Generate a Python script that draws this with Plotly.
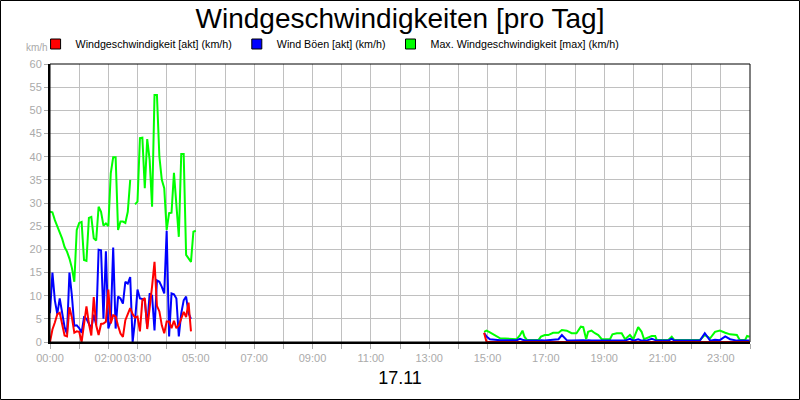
import plotly.graph_objects as go

DAY = "2023-11-17"

# ---- data: 00:00 - 05:00, 5-minute readings ----
left_times = [f"{m // 60:02d}:{m % 60:02d}" for m in range(0, 301, 5)]

speed_left = [
    0.0, 2.7, 4.2, 6.0, 6.3, 3.9, 1.4, 1.2, 7.5, 5.3,
    2.0, 2.3, 2.2, 0.0, 4.0, 7.7, 4.0, 1.4, 9.7, 3.6,
    1.5, 3.9, 4.0, 4.4, 11.3, 4.0, 5.8, 5.5, 3.5, 1.8,
    1.1, 4.7, 6.0, 7.3, 6.0, 5.3, 5.5, 2.3, 9.0, 9.5,
    2.8, 6.8, 12.0, 17.3, 7.8, 6.6, 3.6, 1.9, 4.4, 4.4,
    3.0, 4.6, 3.0, 3.6, 5.0, 6.5, 5.4, 8.5, 2.3, None,
    None,
]
gust_left = [
    6.2, 15.0, 9.0, 6.0, 9.4, 6.0, 3.2, 1.8, 15.0, 10.0,
    3.5, 3.6, 3.0, 2.0, 5.3, 5.0, 4.0, 2.9, 5.9, 3.7,
    19.9, 19.8, 5.0, 19.6, 2.9, 4.5, 20.4, 2.9, 9.8, 9.4,
    8.3, 13.0, 12.6, 14.0, 0.0, 4.7, 11.3, 9.4, 9.3, 9.0,
    3.2, 10.5, 10.0, 2.5, 13.3, 13.0, 11.9, 10.5, 24.0, 1.2,
    10.5, 10.3, 9.4, 1.2, 6.2, 9.0, 9.8, 6.2, 5.0, None,
    None,
]
max_left = [
    28.1, 28.0, 26.3, 24.9, 23.8, 22.3, 20.5, 19.5, 18.0, 16.0,
    13.0, 24.2, 25.7, 25.9, 17.7, 17.5, 26.8, 27.0, 22.4, 21.9,
    29.2, 28.1, 25.1, 25.6, 25.0, 36.4, 39.9, 39.9, 24.2, 26.0,
    26.0, 25.7, 28.1, 35.0, None, 29.7, 30.3, 44.0, 44.1, 33.2,
    43.8, 39.3, 29.2, 53.3, 53.3, 40.0, 35.0, 33.2, 24.2, 27.8,
    27.9, 36.5, 30.0, 22.7, 40.6, 40.6, 18.8, 18.1, 17.3, 23.8,
    24.0,
]

# ---- data: 14:53 - 24:00 ----
right_times = [
    "14:53", "14:58", "15:05", "15:15", "15:26", "16:00", "16:07", "16:12", "16:16", "16:21",
    "16:45", "16:50", "16:58", "17:05", "17:15", "17:26", "17:33", "17:43", "17:53", "18:03",
    "18:12", "18:17", "18:23", "18:27", "18:34", "18:41", "18:48", "18:55", "19:12", "19:17",
    "19:26", "19:36", "19:43", "19:53", "20:00", "20:10", "20:17", "20:22", "20:27", "20:38",
    "20:45", "20:48", "21:12", "21:19", "21:24", "22:17", "22:27", "22:38", "22:48", "22:58",
    "23:09", "23:19", "23:33", "23:39", "23:50", "23:54", "23:59",
]
speed_right = [
    2.0, 0.0, 0.0, 0.0, 0.0, 0.0, 0.0, 0.0, 0.0, 0.0,
    0.0, 0.0, 0.0, 0.0, 0.0, 0.0, 0.0, 0.0, 0.0, 0.0,
    0.0, 0.0, 0.0, 0.0, 0.0, 0.0, 0.0, 0.0, 0.0, 0.0,
    0.0, 0.0, 0.0, 0.0, 0.0, 0.0, 0.0, 0.0, 0.0, 0.0,
    0.0, 0.0, 0.0, 0.0, 0.0, 0.0, 0.0, 0.0, 0.0, 0.0,
    0.0, 0.0, 0.0, 0.0, 0.0, 0.0, 0.0,
]
gust_right = [
    1.9, 1.2, 0.6, 0.5, 0.4, 0.4, 0.7, 0.5, 0.4, 0.3,
    0.3, 0.4, 0.3, 0.4, 0.5, 0.6, 1.5, 0.4, 0.3, 0.4,
    0.4, 0.4, 0.3, 0.4, 0.3, 0.3, 0.3, 0.3, 0.3, 0.3,
    0.3, 0.3, 0.3, 0.7, 0.3, 0.6, 0.3, 0.3, 0.3, 0.7,
    0.3, 0.3, 0.3, 0.7, 0.3, 0.3, 1.9, 0.3, 0.5, 0.4,
    1.2, 0.6, 0.3, 0.3, 0.3, 0.3, 0.3,
]
max_right = [
    2.2, 2.45, 2.1, 1.5, 0.8, 0.6, 1.5, 2.45, 1.15, 0.45,
    0.45, 1.15, 1.5, 1.5, 2.0, 2.0, 2.6, 2.45, 1.9, 1.9,
    3.3, 3.2, 0.6, 2.2, 2.45, 1.9, 1.5, 0.6, 0.6, 1.65,
    1.9, 1.9, 0.6, 1.5, 0.6, 3.2, 2.2, 0.6, 0.8, 1.3,
    1.3, 0.45, 0.45, 1.15, 0.45, 0.45, 1.5, 0.8, 2.2, 2.45,
    2.0, 1.65, 1.5, 0.45, 0.45, 1.3, 1.15,
]

series_names = [
    "Windgeschwindigkeit [akt] (km/h)",
    "Wind Böen [akt] (km/h)",
    "Max. Windgeschwindigkeit [max] (km/h)",
]
series_colors = ["#ff0000", "#0000ff", "#00ff00"]

hour_labels = {0: "00:00", 2: "02:00", 3: "03:00", 5: "05:00", 7: "07:00", 9: "09:00",
               11: "11:00", 13: "13:00", 15: "15:00", 17: "17:00", 19: "19:00",
               21: "21:00", 23: "23:00"}
x_title = "17.11"
y_unit = "km/h"
title = "Windgeschwindigkeiten [pro Tag]"

# ---- build ----
gap_time = "10:00"
x_all = [f"{DAY} {t}" for t in left_times + [gap_time] + right_times]
speed = speed_left + [None] + speed_right
gust = gust_left + [None] + gust_right
vmax = max_left + [None] + max_right

FONT = "Liberation Sans, Arial, sans-serif"
GREY = "#aaaaaa"

fig = go.Figure()
for vals, col in [(vmax, series_colors[2]), (gust, series_colors[1]), (speed, series_colors[0])]:
    fig.add_trace(go.Scatter(x=x_all, y=vals, mode="lines", line=dict(color=col, width=2),
                             showlegend=False, connectgaps=False, hoverinfo="skip"))
for name, col in zip(series_names, series_colors):
    fig.add_trace(go.Scatter(x=[None], y=[None], mode="markers", name=name,
                             marker=dict(symbol="square", size=10, color=col,
                                         line=dict(color="black", width=1))))

tickvals = [f"{DAY} {h:02d}:00" for h in range(24)] + ["2023-11-18 00:00"]
ticktext = [hour_labels.get(h, "") for h in range(24)] + [""]

L, R, T, B = 50, 50, 64, 58
PW, PH = 800 - L - R, 400 - T - B

fig.update_layout(
    width=800, height=400,
    margin=dict(l=L, r=R, t=T, b=B, pad=0, autoexpand=False),
    paper_bgcolor="white", plot_bgcolor="white",
    font=dict(family=FONT, color="black"),
    title=dict(text=title, x=0.5, xanchor="center", y=1 - 18 / 400, yanchor="middle",
               yref="container", font=dict(size=28, color="black", family=FONT)),
    legend=dict(orientation="h", x=-0.0206, xanchor="left", y=1 + (T - 44) / PH, yanchor="middle",
                font=dict(size=10.7, color="black", family=FONT), itemwidth=30,
                bgcolor="rgba(0,0,0,0)", traceorder="normal"),
    showlegend=True,
    xaxis=dict(type="date", range=[f"{DAY} 00:00", "2023-11-18 00:00"],
               tickmode="array", tickvals=tickvals, ticktext=ticktext, tickangle=0,
               automargin=False,
               showgrid=True, gridcolor="#c0c0c0", gridwidth=1,
               ticks="outside", ticklen=5, tickcolor=GREY,
               tickfont=dict(size=11, color=GREY, family=FONT),
               showline=True, linecolor="black", linewidth=2, zeroline=False,
               title=dict(text=x_title, font=dict(size=18, color="black", family=FONT), standoff=8)),
    yaxis=dict(range=[0, 60], dtick=5, tick0=0, automargin=False,
               showgrid=True, gridcolor="#c0c0c0", gridwidth=1,
               ticks="outside", ticklen=4, tickcolor=GREY,
               tickfont=dict(size=11, color=GREY, family=FONT),
               showline=True, linecolor="black", linewidth=2, zeroline=False),
    annotations=[dict(text=y_unit, xref="paper", yref="paper", x=(37 - L) / PW, y=1 + (T - 48) / PH,
                      showarrow=False, xanchor="center", yanchor="middle",
                      font=dict(size=10, color=GREY, family=FONT))],
    shapes=[
        dict(type="rect", xref="paper", yref="paper", x0=0, x1=1, y0=0, y1=1,
             line=dict(color="black", width=1), layer="above"),
        dict(type="rect", xref="paper", yref="paper",
             x0=(0.5 - L) / PW, x1=(799.5 - L) / PW,
             y0=-(B - 0.5) / PH, y1=1 + (T - 0.5) / PH,
             line=dict(color="black", width=1), layer="above"),
    ],
)

fig.write_html("out.html", config={"displayModeBar": False},
               post_script="document.body.style.margin='0';")
